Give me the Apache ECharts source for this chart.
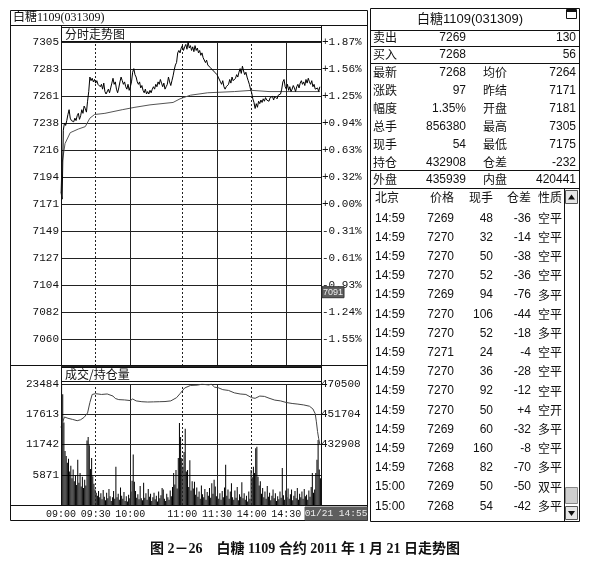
<!DOCTYPE html>
<html><head><meta charset="utf-8">
<script src="https://cdn.jsdelivr.net/npm/echarts@6.0.0/dist/echarts.min.js"></script>
<style>html,body{margin:0;padding:0;background:#fff}#c{width:596px;height:566px}</style>
</head><body><div id="c"></div>
<script>
// ---------- data ----------
const priceTickLabels = ['7305','7283','7261','7238','7216','7194','7171','7149','7127','7104','7082','7060',''];
const pctTickLabels = ['+1.87%','+1.56%','+1.25%','+0.94%','+0.63%','+0.32%','+0.00%','-0.31%','-0.61%','-0.93%','-1.24%','-1.55%',''];
const volTickLabels = ['23484','17613','11742','5871',''];
const oiTickLabels = ['470500','451704','432908','',''];
const timeTickMinutes = [0,30,60,105,135,165,195];
const timeTickLabels = ['09:00','09:30','10:00','11:00','11:30','14:00','14:30'];
const dottedMinutes = [30,105,165];
const solidMinutes = [60,135,195];
const markPriceLabel = 7091;

const price = [
7181,7175,7232,7238,7236,7240,7245,7249,7242,7240,
7241,7239,7242,7240,7244,7246,7241,7244,7249,7246,
7252,7250,7247,7256,7264,7276,7273,7275,7272,7274,
7271,7273,7270,7271,7268,7270,7266,7271,7264,7262,
7261,7266,7263,7267,7271,7275,7270,7272,7266,7263,
7267,7272,7276,7273,7270,7272,7268,7266,7270,7265,
7268,7272,7280,7283,7278,7276,7272,7270,7272,7267,
7269,7265,7263,7266,7262,7264,7262,7265,7263,7266,
7268,7266,7270,7268,7272,7270,7274,7271,7268,7271,
7266,7268,7270,7276,7272,7269,7273,7277,7282,7286,
7288,7296,7298,7296,7300,7302,7298,7301,7303,7299,
7305,7300,7302,7298,7301,7297,7302,7298,7300,7296,
7298,7294,7296,7292,7293,7288,7290,7286,7287,7284,
7285,7282,7283,7280,7281,7278,7276,7277,7272,7270,
7273,7268,7266,7268,7267,7270,7274,7271,7276,7273,
7272,7275,7278,7276,7280,7283,7279,7285,7281,7278,
7280,7276,7273,7270,7266,7263,7258,7255,7250,7254,
7251,7256,7254,7257,7255,7258,7256,7259,7257,7258,
7256,7259,7258,7260,7257,7260,7259,7258,7261,7260,
7262,7266,7272,7274,7268,7266,7270,7265,7268,7264,
7266,7269,7267,7264,7268,7270,7267,7271,7273,7270,
7272,7269,7274,7271,7275,7272,7270,7273,7268,7270,
7266,7265,7267,7264,7268];

const avgMinutes = [0,1,3.5,8,15,21,25,29,38,53,64,77,97,103,112,127,150,165,180,224];
const avgValues  = [7181,7205,7221,7230,7233,7235,7242,7245,7246,7249,7251,7253,7255,7258,7261,7263,7264,7265,7264,7264];

const volume = [
23400,21500,16000,10500,9500,8200,9000,6500,7600,5200,
6900,4600,5800,3900,8800,4300,6200,3600,5500,3300,
4900,3800,12500,13200,11600,7000,9100,5600,4100,3000,
2400,1800,2700,1500,2300,1100,2900,1600,900,2400,
1300,3100,1700,800,1500,2700,1200,7400,1500,2200,
1000,3400,1800,1200,2500,800,1700,700,2000,1300,
2600,4700,9800,4500,2700,1400,2100,1100,3700,1300,
900,4300,1400,2300,1000,3100,1600,2200,800,1500,
2400,1100,1800,700,2600,1300,1900,3300,3000,1200,
800,2200,1500,1000,2800,1700,3500,6200,4000,6800,
3200,9100,15900,13200,9100,7400,10300,14800,6500,6800,
3500,8700,2800,4600,3200,4500,2000,3400,1600,2600,
1200,3800,2100,1500,3100,1000,2500,1800,3300,1400,
4200,2200,4900,3600,1700,2900,1200,2300,1000,2700,
1500,3400,7800,1800,3000,1200,2600,4200,1500,1000,
2800,1400,3500,900,2100,1600,4400,1300,2300,1000,
1800,700,2600,1200,6800,5400,7400,6200,11000,11300,
5500,3800,4600,2200,3300,1500,2600,1200,3700,1600,
2400,900,1800,3000,1300,2300,800,1700,1100,2600,
1400,7200,1900,1000,2800,1500,3200,1200,2100,3000,
900,1800,2700,1300,3300,1000,2200,1500,2600,1200,
3100,1700,2000,1000,2800,1600,3500,6200,2400,3000,
6200,8800,12600,6900,5200];

const oiMinutes = [0,1,3,6,10,14,17,20,23,25,27,30,35,40,45,47,50,55,60,62,65,70,75,80,85,90,95,100,103,107,112,118,122,128,130,133,136,140,145,150,155,160,165,168,172,176,180,185,190,195,200,205,210,215,218,220,221,222,223,224];
const oiValues  = [443500,446000,450000,449200,448500,447700,448300,449800,452500,459000,464000,464500,464000,464300,463000,461500,460800,460600,460200,461200,460000,459500,459300,459400,459500,459600,460000,462000,464500,468000,469600,469800,470400,469900,470500,468500,468200,467000,466500,465000,464300,464000,462000,461600,463000,462800,461700,460500,460000,459000,458400,458000,457500,456700,455000,452000,447000,441000,436500,432908];

// right-hand quote panel
const quoteTitle = '白糖1109(031309)';
const quoteLabels1 = ['卖出','买入','最新','涨跌','幅度','总手','现手','持仓','外盘'];
const quoteValues1 = ['7269','7268','7268','97','1.35%','856380','54','432908','435939'];
const quoteLabels2 = ['','','均价','昨结','开盘','最高','最低','仓差','内盘'];
const quoteValues2 = ['130','56','7264','7171','7181','7305','7175','-232','420441'];
const tradeHeader = ['北京','价格','现手','仓差','性质'];
const tradeTimes = ['14:59','14:59','14:59','14:59','14:59','14:59','14:59','14:59','14:59','14:59','14:59','14:59','14:59','14:59','15:00','15:00'];
const tradePrices = ['7269','7270','7270','7270','7269','7270','7270','7271','7270','7270','7270','7269','7269','7268','7269','7268'];
const tradeVols = ['48','32','50','52','94','106','52','24','36','92','50','60','160','82','50','54'];
const tradeOi = ['-36','-14','-38','-36','-76','-44','-18','-4','-28','-12','+4','-32','-8','-70','-50','-42'];
const tradeNature = ['空平','空平','空平','空平','多平','空平','多平','空平','空平','空平','空开','多平','空平','多平','双平','多平'];
const chartTitle = '白糖1109(031309)';
const panelTitle1 = '分时走势图';
const panelTitle2 = '成交/持仓量';
const cursorTime = '01/21 14:55';
const caption = '图 2－26　白糖 1109 合约 2011 年 1 月 21 日走势图';

// ---------- layout ----------
const MONO = '"Liberation Mono", "DejaVu Sans Mono", monospace';
const SANS = '"Liberation Sans", Arial, "Noto Sans CJK SC", sans-serif';
const CJK = '"Noto Sans CJK SC", sans-serif';
const pMin = 7037, pMax = 7305, pStep = (pMax - pMin) / 12;
const vMax = 23484, vStep = 5871;
const oMin = 395316, oMax = 470500, oStep = 18796;

const chart = echarts.init(document.getElementById('c'), null, {renderer: 'canvas'});

const vLines = dottedMinutes.map(m => ({xAxis: m, lineStyle: {type: [2, 2], color: '#222', width: 1}}))
  .concat(solidMinutes.map(m => ({xAxis: m, lineStyle: {type: 'solid', color: '#222', width: 1}})));

const G = [];
function line(x1, y1, x2, y2, w, c) { G.push({type: 'line', silent: true, z: 50, shape: {x1, y1, x2, y2}, style: {stroke: c || '#111', lineWidth: w || 1}}); }
function rect(x, y, w, h, fill, stroke) { G.push({type: 'rect', silent: true, z: 40, shape: {x, y, width: w, height: h}, style: {fill: fill || 'none', stroke: stroke || '#111', lineWidth: 1}}); }
function text(t, x, y, font, align, fill) { G.push({type: 'text', silent: true, z: 60, style: {text: t, x, y, font, align: align || 'left', verticalAlign: 'middle', fill: fill || '#111'}}); }

// left frame
rect(10.5, 10.5, 357, 510, 'none');
line(10, 25.5, 368, 25.5);
line(10, 365.5, 368, 365.5);
line(10, 505.5, 368, 505.5);
line(61.5, 25, 61.5, 505);
line(321.5, 25, 321.5, 505);
text(chartTitle, 13, 18, '12px "Liberation Serif", "Noto Sans CJK SC", serif');
rect(61.5, 27.5, 260, 14, '#fff');
text(panelTitle1, 65, 34.5, '12px ' + CJK);
rect(61.5, 367.5, 260, 14, '#fff');
text(panelTitle2, 65, 374.5, '12px ' + CJK);
rect(305, 507, 62, 13, '#5e5e5e', '#5e5e5e');
text(cursorTime, 336, 513.5, '9.5px ' + MONO, 'center', '#eee');

// right quote panel
const TX = 370.5, TR = 579.5;
rect(TX, 8.5, TR - TX, 513, 'none');
[30.5, 46.5, 63.5, 170.5, 188.5].forEach(y => line(TX, y, TR, y));
text(quoteTitle, 470, 19, '13px ' + SANS, 'center');
rect(566.5, 9.5, 10, 9, 'none');
line(566.5, 11, 576.5, 11, 2);
const qY = [37.5, 54.5, 72.5, 90.5, 108.5, 126.5, 144.5, 162.5, 179.5];
quoteLabels1.forEach((t, i) => {
  text(t, 373, qY[i], '12px ' + CJK);
  text(quoteValues1[i], 466, qY[i], '12px ' + SANS, 'right');
  if (quoteLabels2[i]) text(quoteLabels2[i], 483, qY[i], '12px ' + CJK);
  text(quoteValues2[i], 576, qY[i], '12px ' + SANS, 'right');
});
const colX = [375, 454, 493, 531, 538];
const colA = ['left', 'right', 'right', 'right', 'left'];
tradeHeader.forEach((t, j) => text(t, colX[j], 197.5, '12px ' + CJK, colA[j]));
tradeTimes.forEach((t, i) => {
  const y = 218.3 + i * 19.2;
  text(t, colX[0], y, '12px ' + SANS);
  text(tradePrices[i], colX[1], y, '12px ' + SANS, 'right');
  text(tradeVols[i], colX[2], y, '12px ' + SANS, 'right');
  text(tradeOi[i], colX[3], y, '12px ' + SANS, 'right');
  text(tradeNature[i], colX[4], y, '12px ' + CJK);
});
// scrollbar
line(564.5, 188.5, 564.5, 521.5);
rect(565.5, 190.5, 12, 13, '#e6e6e6', '#555');
G.push({type: 'polygon', silent: true, z: 60, shape: {points: [[568, 199.5], [571.5, 194.5], [575, 199.5]]}, style: {fill: '#111'}});
rect(565.5, 487.5, 12, 16, '#cfcfcf', '#888');
rect(565.5, 506.5, 12, 13, '#e6e6e6', '#555');
G.push({type: 'polygon', silent: true, z: 60, shape: {points: [[568, 511], [571.5, 516], [575, 511]]}, style: {fill: '#111'}});
// caption
text(caption, 305, 549, 'bold 14px "Liberation Serif", "Noto Sans CJK SC", serif', 'center');

const option = {
  animation: false,
  backgroundColor: '#fff',
  grid: [
    {left: 61, top: 42, width: 260, height: 324},
    {left: 61, top: 384, width: 260, height: 121}
  ],
  xAxis: [
    {gridIndex: 0, type: 'value', min: 0, max: 225, interval: 15,
     axisLine: {show: false}, axisTick: {show: false}, axisLabel: {show: false}, splitLine: {show: false}},
    {gridIndex: 1, type: 'value', min: 0, max: 225, interval: 15,
     axisLine: {show: true, lineStyle: {color: '#111'}}, axisTick: {show: false}, splitLine: {show: false},
     axisLabel: {show: true, margin: 4, fontFamily: MONO, fontSize: 10, color: '#111', showMinLabel: true, showMaxLabel: false, hideOverlap: false,
       formatter: v => { const k = timeTickMinutes.indexOf(Math.round(v)); return k >= 0 ? timeTickLabels[k] : ''; }}}
  ],
  yAxis: [
    {gridIndex: 0, type: 'value', min: pMin, max: pMax, interval: pStep,
     axisLine: {show: true, lineStyle: {color: '#111'}}, axisTick: {show: false},
     splitLine: {show: true, lineStyle: {color: '#222', width: 1}},
     axisLabel: {margin: 2, fontFamily: MONO, fontSize: 11, color: '#111',
       formatter: v => priceTickLabels[Math.round((pMax - v) / pStep)] || ''}},
    {gridIndex: 0, type: 'value', position: 'right', min: pMin, max: pMax, interval: pStep,
     axisLine: {show: true, lineStyle: {color: '#111'}}, axisTick: {show: false}, splitLine: {show: false},
     axisLabel: {margin: 1, fontFamily: MONO, fontSize: 11, color: '#111',
       formatter: v => pctTickLabels[Math.round((pMax - v) / pStep)] || ''}},
    {gridIndex: 1, type: 'value', min: 0, max: vMax, interval: vStep,
     axisLine: {show: true, lineStyle: {color: '#111'}}, axisTick: {show: false},
     splitLine: {show: true, lineStyle: {color: '#222', width: 1}},
     axisLabel: {margin: 2, fontFamily: MONO, fontSize: 11, color: '#111',
       formatter: v => volTickLabels[Math.round((vMax - v) / vStep)] || ''}},
    {gridIndex: 1, type: 'value', position: 'right', min: oMin, max: oMax, interval: oStep,
     axisLine: {show: true, lineStyle: {color: '#111'}}, axisTick: {show: false}, splitLine: {show: false},
     axisLabel: {margin: 0, fontFamily: MONO, fontSize: 11, color: '#111',
       formatter: v => oiTickLabels[Math.round((oMax - v) / oStep)] || ''}}
  ],
  series: [
    {type: 'line', name: 'price', xAxisIndex: 0, yAxisIndex: 0, data: price.map((p, i) => [i, p]),
     showSymbol: false, symbol: 'none', lineStyle: {color: '#000', width: 1}, z: 5,
     markLine: {silent: true, symbol: 'none', animation: false, label: {show: false}, data: vLines}},
    {type: 'line', name: 'avg', xAxisIndex: 0, yAxisIndex: 0, data: avgMinutes.map((m, i) => [m, avgValues[i]]),
     showSymbol: false, symbol: 'none', lineStyle: {color: '#555', width: 1}, z: 4},
    {type: 'bar', name: 'vol', xAxisIndex: 1, yAxisIndex: 2, data: volume.map((v, i) => [i + 0.5, v]),
     barWidth: 1, itemStyle: {color: '#000'},
     markLine: {silent: true, symbol: 'none', animation: false, label: {show: false}, data: vLines}},
    {type: 'line', name: 'oi', xAxisIndex: 1, yAxisIndex: 3, data: oiMinutes.map((m, i) => [m, oiValues[i]]),
     showSymbol: false, symbol: 'none', lineStyle: {color: '#444', width: 1}, z: 5}
  ],
  graphic: G
};
chart.setOption(option);

// cursor price tag on the right axis, positioned through the price scale
const tagY = chart.convertToPixel({yAxisIndex: 0}, markPriceLabel);
chart.setOption({graphic: G.concat([
  {type: 'rect', silent: true, z: 70, shape: {x: 322, y: tagY - 14, width: 22, height: 11}, style: {fill: '#5e5e5e', stroke: '#333'}},
  {type: 'text', silent: true, z: 71, style: {text: String(markPriceLabel), x: 333, y: tagY - 8.5, font: '9px ' + SANS, align: 'center', verticalAlign: 'middle', fill: '#eee'}}
])});
</script></body></html>
